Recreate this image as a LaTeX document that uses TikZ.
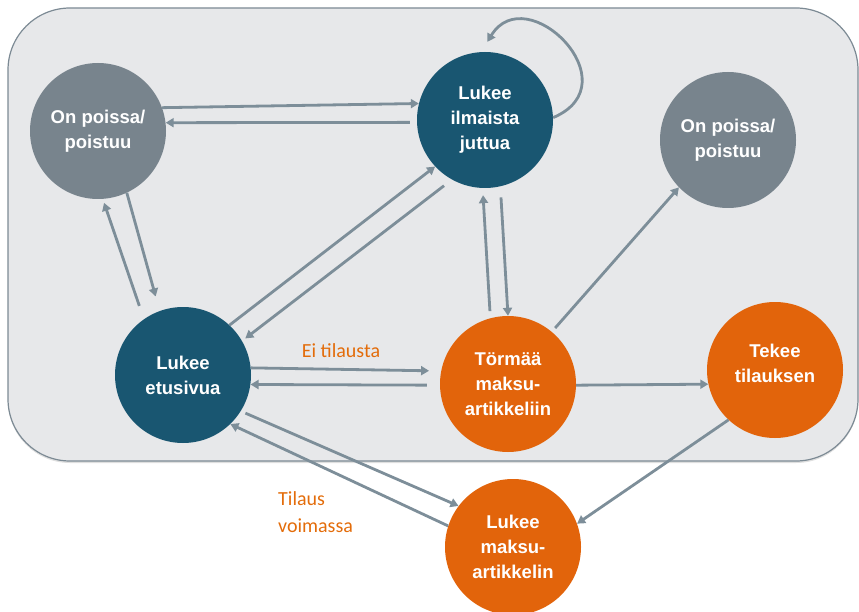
\documentclass[tikz,border=0pt]{standalone}
\usepackage{fontspec}
\setmainfont{Liberation Sans}
\newfontfamily\labelfont{Carlito}
\usetikzlibrary{arrows.meta,shadows}

\definecolor{deepblue}{HTML}{195671}
\definecolor{slategray}{HTML}{78848D}
\definecolor{burnt}{HTML}{E2640B}
\definecolor{linkgray}{HTML}{7D8E99}
\definecolor{panelfill}{HTML}{E7E8EA}
\definecolor{panelline}{HTML}{7C8A94}
\definecolor{labelorange}{HTML}{E36C0A}

\tikzset{
  state/.style={circle, minimum size=136pt, inner sep=0pt, text=white,
    align=center, font=\bfseries\fontsize{18.5pt}{25pt}\selectfont},
  awaystate/.style={state, fill=slategray},
  readstate/.style={state, fill=deepblue},
  paystate/.style={state, fill=burnt},
  link/.style={draw=linkgray, line width=2.8pt,
    -{Triangle[length=8pt,width=9pt]}},
  edgelabel/.style={text=labelorange, align=left,
    font=\labelfont\fontsize{20pt}{27pt}\selectfont, inner sep=0pt},
  panel/.style={draw=panelline, line width=1.2pt, fill=panelfill,
    rounded corners=62pt,
    drop shadow={opacity=0.25, shadow xshift=0pt, shadow yshift=-2pt}}
}

\begin{document}
\begin{tikzpicture}[x=1pt, y=-1pt]
  \useasboundingbox (0,0) rectangle (859,612);

  % grey panel behind the site states
  \path[panel] (8,8) rectangle (858,461);

  % states
  \node[awaystate] (away1) at (98,131)  {On poissa/\\poistuu};
  \node[readstate] (free)  at (485,120) {Lukee\\ilmaista\\juttua};
  \node[awaystate] (away2) at (728,140) {On poissa/\\poistuu};
  \node[readstate] (front) at (183,375) {Lukee\\etusivua};
  \node[paystate]  (wall)  at (508,384) {Törmää\\maksu-\\artikkeliin};
  \node[paystate]  (order) at (775,370) {Tekee\\tilauksen\\[-11pt]\mbox{}};
  \node[paystate]  (paid)  at (513,547) {Lukee\\maksu-\\artikkelin};

  % transitions
  \draw[link] (away1.20) -- (free.166);
  \draw[link, shorten <=7pt] (free.182) -- (away1.7);
  \draw[link, shorten >=15pt] (away1.-65) -- (front.110);
  \draw[link, shorten <=14pt, shorten >=4pt] (front.125) -- (away1.-86);
  \draw[link] (front.47) -- (free.223);
  \draw[link, shorten <=10pt, shorten >=4pt] (free.241) -- (front.30);
  \draw[link, shorten <=7pt, shorten >=7pt] (wall.105) -- (free.268);
  \draw[link, shorten <=11pt] (free.283) -- (wall.90);
  \draw[link, shorten <=5pt] (wall.50) -- (away2.224);
  \draw[link, shorten >=12pt] (front.6) -- (wall.169);
  \draw[link, shorten <=13pt] (wall.181) -- (front.-8);
  \draw[link] (wall.-1) -- (order.192);
  \draw[link] (order.227) -- (paid.20);
  \draw[link, shorten <=5pt] (front.-32) -- (paid.143);
  \draw[link] (paid.162) -- (front.-46);

  % keeps reading free content
  \draw[link] (free.2) .. controls +(80,-34) and +(39,-64) .. ([yshift=10pt]free.88);

  % transition labels
  \node[edgelabel] (nosub) at (341,351) {Ei tilausta};
  \node[edgelabel, anchor=west] (sub) at (278,512) {Tilaus\\voimassa};
\end{tikzpicture}
\end{document}
